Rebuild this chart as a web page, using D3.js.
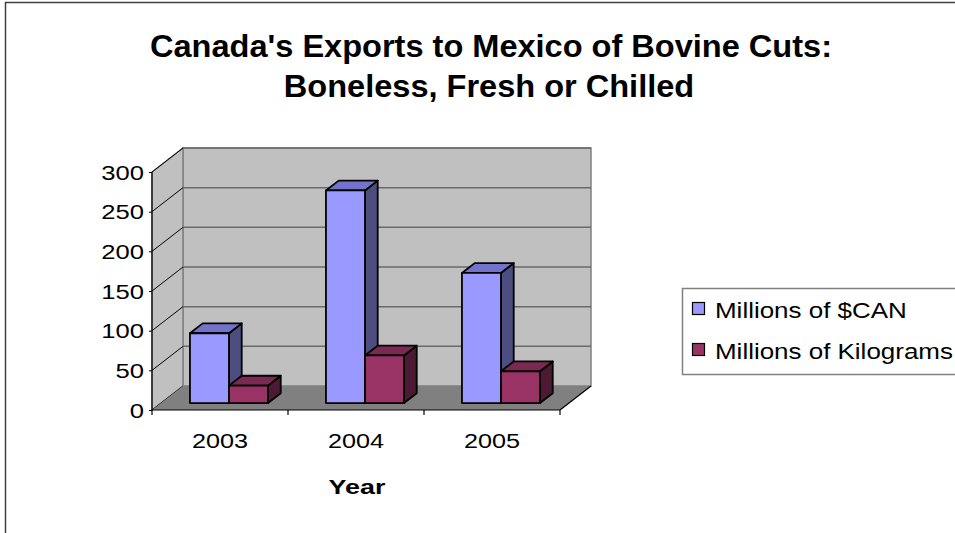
<!DOCTYPE html>
<html><head><meta charset="utf-8">
<script src="https://cdn.jsdelivr.net/npm/d3@7"></script>
<style>body{margin:0;background:#fff}svg{display:block}text{font-family:"Liberation Sans",Arial,sans-serif}</style>
</head><body>
<svg id="c" width="955" height="533"></svg>
<script>
const categories = ["2003", "2004", "2005"];
const seriesNames = ["Millions of $CAN", "Millions of Kilograms"];
const cadValues = [88, 268, 164];
const kgValues = [22, 60, 40];
const yTicks = [0, 50, 100, 150, 200, 250, 300];
const titleLines = ["Canada's Exports to Mexico of Bovine Cuts:", "Boneless, Fresh or Chilled"];
const xTitle = "Year";

const series = [
  {name: seriesNames[0], values: cadValues, front: "#9999ff", top: "#7373cc", side: "#4d4d80"},
  {name: seriesNames[1], values: kgValues, front: "#993366", top: "#7a2952", side: "#4d1a33"}
];

const svg = d3.select("#c");
// horizontally stretched text helper
function stext(parent, x, y, str, size, k, anchor, bold) {
  const gg = parent.append("g").attr("transform", `translate(${x},${y}) scale(${k},1)`);
  return gg.append("text").attr("x", 0).attr("y", 0).attr("text-anchor", anchor || "start")
    .attr("font-size", size).attr("font-weight", bold ? "bold" : "normal").attr("fill", "#000").text(str);
}

// outer chart border
svg.append("rect").attr("x", 5.5).attr("y", 2.5).attr("width", 1200).attr("height", 800)
  .attr("fill", "#fff").attr("stroke", "#404040").attr("stroke-width", 1.5);

const x0 = d3.scaleBand().domain(categories).range([152, 560]);
const y = d3.scaleLinear().domain([0, 300]).range([410, 172]);
const DX = 31, DY = -24; // full depth offset
const P = (x, yy, f) => [x + f * DX, yy + f * DY];
const line = d3.line();

const g = svg.append("g");
const xl = 152, xr = 560;
// back wall
g.append("path").attr("d", line([P(xl, y(0), 1), P(xr, y(0), 1), P(xr, y(300), 1), P(xl, y(300), 1)]) + "Z")
  .attr("fill", "#c0c0c0").attr("stroke", "#808080").attr("stroke-width", 1.5);
// side wall
g.append("path").attr("d", line([P(xl, y(0), 0), P(xl, y(0), 1), P(xl, y(300), 1), P(xl, y(300), 0)]) + "Z")
  .attr("fill", "#c0c0c0").attr("stroke", "#808080").attr("stroke-width", 1.5);
// gridlines
yTicks.forEach(t => {
  if (t > 0) {
    g.append("path").attr("d", line([P(xl, y(t), 1), P(xr, y(t), 1)]))
      .attr("stroke", "#6a6a6a").attr("stroke-width", 1.5).attr("fill", "none");
  }
  g.append("path").attr("d", line([P(xl, y(t), 0), P(xl, y(t), 1)]))
    .attr("stroke", "#000").attr("stroke-width", 1).attr("fill", "none");
});
// floor
g.append("path").attr("d", line([P(xl, y(0), 0), P(xr, y(0), 0), P(xr, y(0), 1), P(xl, y(0), 1)]) + "Z")
  .attr("fill", "#808080").attr("stroke", "none");
g.append("path").attr("d", line([P(xr, y(0), 0), P(xr, y(0), 1)]))
  .attr("stroke", "#000").attr("stroke-width", 1.2).attr("fill", "none");

// y axis
g.append("line").attr("x1", xl).attr("x2", xl).attr("y1", y(300)).attr("y2", y(0))
  .attr("stroke", "#000").attr("stroke-width", 1.2);
const yAxis = d3.axisLeft(y).tickValues(yTicks).tickSize(3).tickFormat("");
const ya = svg.append("g").attr("transform", `translate(${xl},0)`).call(yAxis);
ya.select(".domain").remove();
ya.selectAll("line").attr("stroke", "#000");
yTicks.forEach(t => stext(svg, 144, y(t) + 7.5, String(t), 21, 1.22, "end"));

// x axis
g.append("line").attr("x1", xl).attr("x2", xr).attr("y1", y(0)).attr("y2", y(0)).attr("stroke", "#000").attr("stroke-width", 1.2);
[...categories.map(c => x0(c)), xr].forEach(xx => {
  g.append("line").attr("x1", xx).attr("x2", xx).attr("y1", y(0)).attr("y2", y(0) + 5).attr("stroke", "#000").attr("stroke-width", 1.2);
});
categories.forEach(c => stext(svg, x0(c) + x0.bandwidth() / 2, 448, c, 21, 1.2, "middle"));

// bars
const groupFrac = 0.574;
const x1 = d3.scaleBand().domain(seriesNames)
  .range([(1 - groupFrac) / 2 * x0.bandwidth(), (1 + groupFrac) / 2 * x0.bandwidth()]);
const f0 = 0.29, f1 = 0.70;
const bars = svg.append("g");
categories.forEach((c, i) => {
  series.forEach(s => {
    const a = x0(c) + x1(s.name), b = a + x1.bandwidth();
    const yt = y(s.values[i]), yb = y(0);
    const add = (pts, fill) => bars.append("path").attr("d", line(pts) + "Z").attr("fill", fill)
      .attr("stroke", "#000").attr("stroke-width", 1.8).attr("stroke-linejoin", "round");
    add([P(b, yb, f0), P(b, yb, f1), P(b, yt, f1), P(b, yt, f0)], s.side);
    add([P(a, yt, f0), P(b, yt, f0), P(b, yt, f1), P(a, yt, f1)], s.top);
    add([P(a, yb, f0), P(b, yb, f0), P(b, yt, f0), P(a, yt, f0)], s.front);
  });
});

// titles
stext(svg, 491, 57, titleLines[0], 31, 1.05, "middle", true);
stext(svg, 489, 97, titleLines[1], 31, 1.05, "middle", true);
stext(svg, 357, 494, xTitle, 21, 1.28, "middle", true);

// legend
const lg = svg.append("g");
lg.append("rect").attr("x", 682.5).attr("y", 288.5).attr("width", 300).attr("height", 86)
  .attr("fill", "#fff").attr("stroke", "#808080").attr("stroke-width", 1.5);
series.forEach((s, i) => {
  const yy = 310 + i * 41;
  lg.append("rect").attr("x", 692.5).attr("y", yy - 7.5).attr("width", 12).attr("height", 12)
    .attr("fill", s.front).attr("stroke", "#000").attr("stroke-width", 1.2);
  stext(lg, 715, yy + 8, s.name, 22, 1.18, "start");
});
</script>
</body></html>
